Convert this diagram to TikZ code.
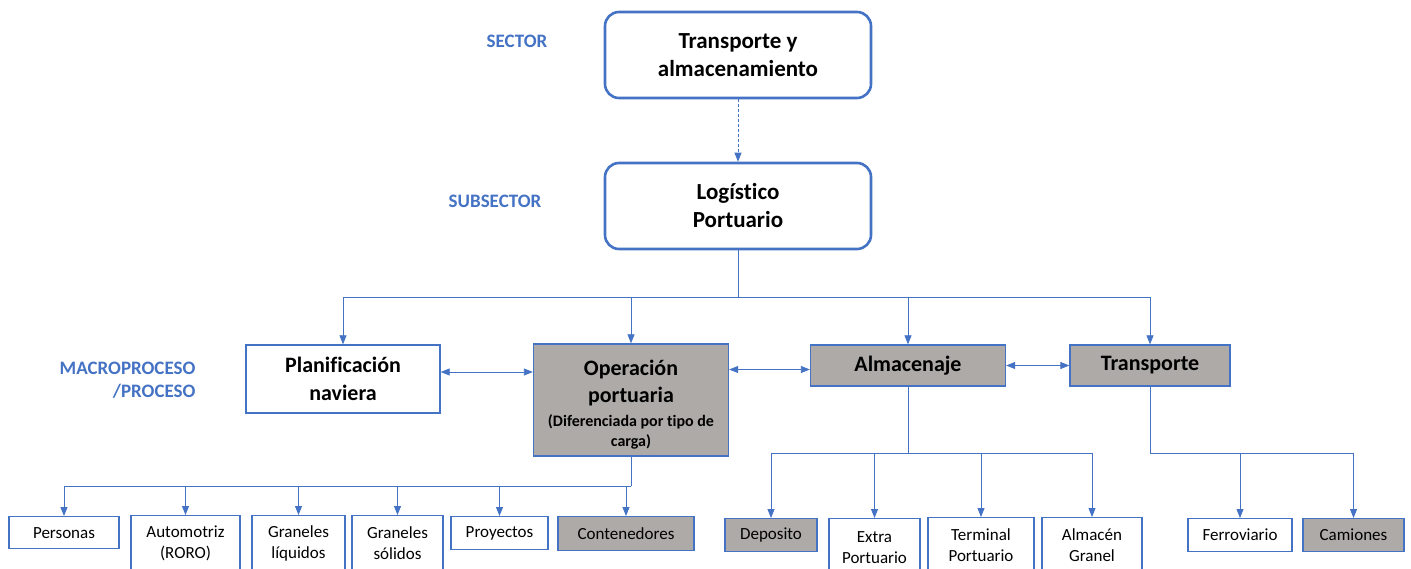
\documentclass[tikz,border=0pt]{standalone}
\usepackage{fontspec}
\setmainfont{Carlito}[Ligatures=NoCommon]
\usepackage{xcolor}
\usetikzlibrary{positioning,arrows.meta}
\definecolor{boxblue}{HTML}{4472C4}
\definecolor{boxgray}{HTML}{ADAAA7}

\begin{document}
\begin{tikzpicture}[x=1pt, y=-1pt,
    top/.style={draw=boxblue, line width=2.6pt, rounded corners=14pt, minimum width=266pt, minimum height=86pt, align=center, font=\fontsize{23}{28}\selectfont\bfseries},
    proc/.style={draw=boxblue, line width=1.3pt, align=center, inner sep=0pt, font=\fontsize{22}{28}\selectfont\bfseries},
    leaf/.style={draw=boxblue, line width=1.3pt, align=center, inner sep=0pt, anchor=north, font=\fontsize{17}{21}\selectfont},
    shade/.style={fill=boxgray},
    level/.style={text=boxblue, align=right, font=\fontsize{19}{23}\selectfont\bfseries},
    wire/.style={draw=boxblue, line width=0.8pt},
    link/.style={wire, -{Triangle[length=9pt,width=7pt]}},
    both/.style={wire, {Triangle[length=9pt,width=7pt]}-{Triangle[length=9pt,width=7pt]}}
]
    \useasboundingbox (0,0) rectangle (1411,569);
    \clip (0,0) rectangle (1411,569);

    \node[level] (lsect) at (517,41) {SECTOR};
    \node[level] (lsub) at (495,201) {SUBSECTOR};
    \node[level, anchor=east] (lmacro) at (199,380) {MACROPROCESO\\/PROCESO};

    \node[top] (sect) at (738,55) {Transporte y\\almacenamiento};
    \node[top] (log) at (738,206) {Logístico\\Portuario};

    \node[proc, minimum width=194, minimum height=68] (plan) at (343,379) {Planificación\\naviera};
    \node[proc, shade, minimum width=195, minimum height=112, font=\fontsize{16}{20}\selectfont\bfseries] (oper) at (631,400)
        {{\fontsize{22}{28}\selectfont\rule{0pt}{25pt}Operación}\\[7pt]{\fontsize{22}{28}\selectfont portuaria}\\[4pt](Diferenciada por tipo de\\carga)};
    \node[proc, shade, minimum width=195, minimum height=41] (alm) at (908,365.5) {Almacenaje};
    \node[proc, shade, minimum width=160, minimum height=41] (trans) at (1150,365.5) {Transporte};

    \node[leaf, minimum width=110, minimum height=32] (pers) at (64,516) {Personas};
    \node[leaf, minimum width=109, minimum height=56] (auto) at (185.5,515) {Automotriz\\(RORO)};
    \node[leaf, minimum width=93, minimum height=56] (gliq) at (298.5,515) {Graneles\\líquidos};
    \node[leaf, minimum width=91, minimum height=56] (gsol) at (397.5,515) {Graneles\\sólidos};
    \node[leaf, minimum width=97, minimum height=33] (proy) at (499.5,516) {Proyectos};
    \node[leaf, shade, minimum width=136, minimum height=34] (cont) at (626,516) {Contenedores};

    \node[leaf, shade, minimum width=92, minimum height=33] (dep) at (771,518) {Deposito};
    \node[leaf, minimum width=91, minimum height=58] (extra) at (874.5,518) {Extra\\Portuario};
    \node[leaf, minimum width=106, minimum height=55] (term) at (981,517) {Terminal\\Portuario};
    \node[leaf, minimum width=100, minimum height=55] (granel) at (1092,517) {Almacén\\Granel};

    \node[leaf, minimum width=104, minimum height=33] (ferro) at (1240,518) {Ferroviario};
    \node[leaf, shade, minimum width=101, minimum height=33] (cam) at (1353.5,518) {Camiones};

    \draw[link, dash pattern=on 3pt off 2pt] (sect) -- (log);

    \coordinate (b1) at (738,297);
    \coordinate (b2) at (631,486);
    \coordinate (b3) at (908,453);
    \coordinate (b4) at (1150,453);

    \draw[wire] (log) -- (b1);
    \foreach \n in {plan,oper,alm,trans}
        \draw[link] (b1) -| (\n);

    \draw[wire] (oper) -- (b2);
    \foreach \n in {pers,auto,gliq,gsol,proy,cont}
        \draw[link] (b2) -| (\n);

    \draw[wire] (alm) -- (b3);
    \foreach \n in {dep,extra,term,granel}
        \draw[link] (b3) -| (\n);

    \draw[wire] (trans) -- (b4);
    \foreach \n in {ferro,cam}
        \draw[link] (b4) -| (\n);

    \draw[both] ([yshift=7pt]plan.east) -- ([yshift=7pt]plan.east -| oper.west);
    \draw[both] ([yshift=-4pt]alm.west -| oper.east) -- ([yshift=-4pt]alm.west);
    \draw[both] (alm) -- (trans);

\end{tikzpicture}
\end{document}
